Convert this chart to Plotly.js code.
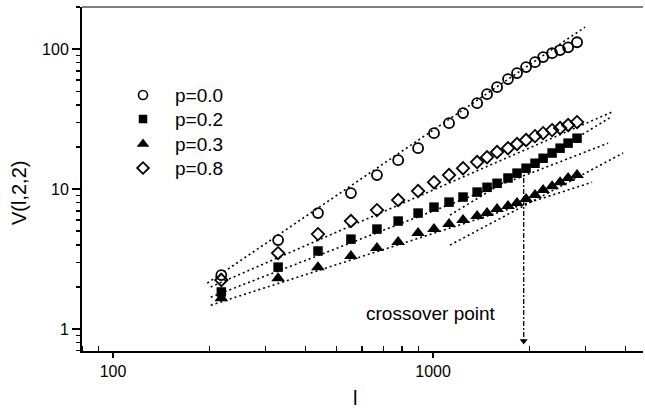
<!DOCTYPE html>
<html>
<head>
<meta charset="utf-8">
<script src="https://cdn.plot.ly/plotly-3.0.1.min.js"></script>
<style>html,body{margin:0;padding:0;background:#fff;}</style>
</head>
<body>
<div id="chart" style="width:645px;height:411px;"></div>
<script>
// ---- data ----
const sizeL = [218, 328, 437, 554, 668, 778, 898, 1007, 1122, 1241, 1373, 1475, 1585, 1715, 1830, 1953, 2083, 2208, 2355, 2495, 2643, 2818];
const v_p00 = [2.43, 4.32, 6.74, 9.36, 12.6, 16.1, 19.6, 25.1, 29.6, 34.9, 41.1, 47.7, 53.5, 61.1, 67.4, 74.4, 80.7, 87.7, 93.6, 98.4, 103, 112];
const v_p02 = [1.84, 2.77, 3.61, 4.39, 5.18, 5.91, 6.74, 7.43, 8.07, 8.77, 9.52, 10.3, 11.0, 12.0, 13.0, 14.1, 15.3, 16.6, 18.1, 19.6, 21.3, 23.1];
const v_p03 = [1.66, 2.31, 2.77, 3.32, 3.79, 4.18, 4.85, 5.18, 5.62, 6.01, 6.42, 6.74, 7.20, 7.56, 7.94, 8.48, 9.06, 9.84, 10.5, 11.2, 12.0, 12.6];
const v_p08 = [2.24, 3.49, 4.77, 5.91, 7.08, 8.35, 9.68, 11.2, 12.6, 14.1, 15.6, 16.9, 18.4, 19.6, 21.0, 22.4, 23.9, 25.1, 26.4, 27.3, 28.7, 30.1];
const seriesNames = ["p=0.0", "p=0.2", "p=0.3", "p=0.8"];

// dotted fit lines (endpoints)
const fit_p00_L = [197, 2985],  fit_p00_V = [2.13, 143.6];
const fit_p08_L = [202, 3623],  fit_p08_V = [2.0, 35.5];
const fit_p02a_L = [202, 3524], fit_p02a_V = [1.69, 21.3];
const fit_p02b_L = [1130, 3597], fit_p02b_V = [6.52, 32.7];
const fit_p03a_L = [202, 3141], fit_p03a_V = [1.48, 11.2];
const fit_p03b_L = [1130, 3926], fit_p03b_V = [3.98, 18.1];

// crossover marker
const crossL = [1920, 1920];
const crossV = [12.0, 0.82];
const crossLabel = "crossover point";

const xTitle = "l";
const yTitle = "V(l,2,2)";

// ---- styling ----
const FONT = "Liberation Sans, Arial, Helvetica, sans-serif";
const dotted = {color: "#000", width: 1.6, dash: "2px,3px"};

// plot area in pixels (for legend placement on an overlay axis)
const PL = 82, PR = 643, PT = 7, PB = 351;

const markerStyles = [
  {symbol: "circle-open", size: 10, color: "#000", line: {width: 1.8, color: "#000"}},
  {symbol: "square", size: 9.5, color: "#000", line: {width: 0}},
  {symbol: "triangle-up", size: 12, color: "#000", line: {width: 0}},
  {symbol: "diamond-open", size: 9.5, color: "#000", line: {width: 1.8, color: "#000"}}
];
const legendMarkerStyles = [
  {symbol: "circle-open", size: 9, color: "#000", line: {width: 1.6, color: "#000"}},
  {symbol: "square", size: 8.5, color: "#000", line: {width: 0}},
  {symbol: "triangle-up", size: 11, color: "#000", line: {width: 0}},
  {symbol: "diamond-open", size: 9, color: "#000", line: {width: 1.8, color: "#000"}}
];
const legendMarkX = 143, legendTextX = 173, legendRowY = [95, 119, 144, 168];

function fitTrace(x, y) {
  return {x: x, y: y, mode: "lines", line: dotted, showlegend: false, hoverinfo: "skip"};
}

const seriesValues = [v_p00, v_p02, v_p03, v_p08];

const traces = [
  fitTrace(fit_p00_L, fit_p00_V),
  fitTrace(fit_p08_L, fit_p08_V),
  fitTrace(fit_p02a_L, fit_p02a_V),
  fitTrace(fit_p02b_L, fit_p02b_V),
  fitTrace(fit_p03a_L, fit_p03a_V),
  fitTrace(fit_p03b_L, fit_p03b_V),
  {x: crossL, y: crossV, mode: "lines", line: {color: "#000", width: 1.3, dash: "5px,2px,2px,2px"}, showlegend: false},
  {x: [crossL[1]], y: [crossV[1]], mode: "markers", marker: {symbol: "triangle-down", size: 7, color: "#000"}, showlegend: false}
];
seriesValues.forEach((vals, i) => {
  traces.push({x: sizeL, y: vals, name: seriesNames[i], mode: "markers", marker: markerStyles[i], showlegend: false});
});
// hand-made legend symbols on an overlay axis measured in pixels
seriesNames.forEach((nm, i) => {
  traces.push({x: [legendMarkX], y: [legendRowY[i]], xaxis: "x2", yaxis: "y2", mode: "markers",
               marker: legendMarkerStyles[i], showlegend: false, hoverinfo: "skip"});
});

const legendAnnotations = seriesNames.map((nm, i) => ({
  xref: "x2", yref: "y2", x: legendTextX, y: legendRowY[i], text: nm, showarrow: false,
  xanchor: "left", yanchor: "middle", font: {family: FONT, size: 19, color: "#000"}
}));

const layout = {
  width: 645, height: 411,
  margin: {l: PL, r: 645 - PR, t: PT, b: 411 - PB},
  paper_bgcolor: "#fff", plot_bgcolor: "#fff",
  font: {family: FONT, color: "#000", size: 16},
  showlegend: false,
  xaxis: {type: "log", range: [Math.log10(80), Math.log10(4530)],
          showgrid: false, zeroline: false, showline: true, linecolor: "#000", linewidth: 2,
          ticks: "outside", ticklen: 5, tickwidth: 1.5, tickcolor: "#000",
          tickvals: [100, 1000], ticktext: ["100", "1000"],
          tickfont: {family: FONT, size: 16},
          minor: {ticks: "inside", ticklen: 5, tickwidth: 1.5, tickcolor: "#000",
                  tickvals: [80, 90, 200, 300, 400, 500, 600, 700, 800, 900, 2000, 3000, 4000], showgrid: false}},
  yaxis: {type: "log", range: [Math.log10(0.697), Math.log10(200)],
          showgrid: false, zeroline: false, showline: true, linecolor: "#000", linewidth: 2,
          ticks: "outside", ticklen: 8, tickwidth: 1.5, tickcolor: "#000",
          tickvals: [1, 10, 100], ticktext: ["1", "10", "100"],
          tickfont: {family: FONT, size: 16},
          minor: {ticks: "outside", ticklen: 4, tickwidth: 1.5, tickcolor: "#000",
                  tickvals: [0.7, 0.8, 0.9, 2, 3, 4, 5, 6, 7, 8, 9, 20, 30, 40, 50, 60, 70, 80, 90, 200], showgrid: false}},
  xaxis2: {overlaying: "x", range: [PL, PR], visible: false, fixedrange: true},
  yaxis2: {overlaying: "y", range: [PB, PT], visible: false, fixedrange: true},
  shapes: [
    {type: "line", xref: "paper", yref: "paper", x0: 0, x1: 1, y0: 1, y1: 1,
     line: {color: "#555", width: 1.5}}
  ],
  annotations: [
    {xref: "x", yref: "y", x: Math.log10(1597), y: Math.log10(1.3), text: crossLabel,
     showarrow: false, xanchor: "right", yanchor: "middle", font: {family: FONT, size: 19}},
    {xref: "paper", yref: "paper", x: (355 - PL) / (PR - PL), y: (PB - 398) / (PB - PT), text: xTitle,
     showarrow: false, xanchor: "center", yanchor: "middle", font: {family: FONT, size: 20}},
    {xref: "paper", yref: "paper", x: (19 - PL) / (PR - PL), y: (PB - 193) / (PB - PT), text: yTitle,
     textangle: -90, showarrow: false, xanchor: "center", yanchor: "middle", font: {family: FONT, size: 20}}
  ].concat(legendAnnotations)
};

Plotly.newPlot("chart", traces, layout, {displayModeBar: false, staticPlot: true});
</script>
</body>
</html>
